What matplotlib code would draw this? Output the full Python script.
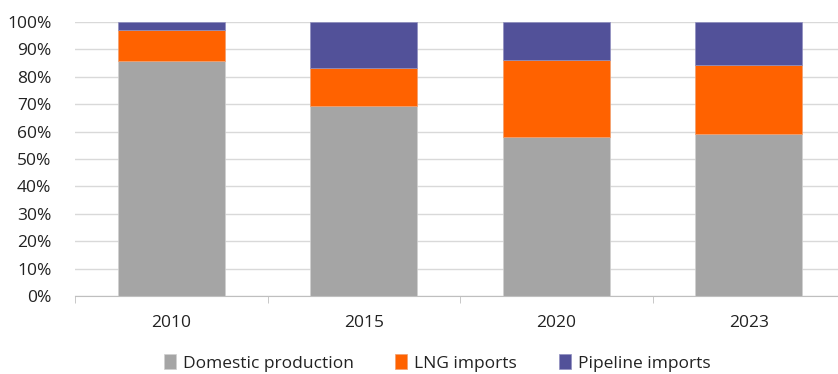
import numpy as np
import matplotlib.pyplot as plt
from matplotlib.ticker import PercentFormatter, FixedLocator

# data (share of supply, %)
years = ["2010", "2015", "2020", "2023"]
domestic = [85.6, 69.5, 58.0, 59.3]
lng = [11.5, 13.8, 28.2, 24.9]
pipeline = [2.9, 16.7, 13.8, 15.8]

GREY = "#A5A5A5"
ORANGE = "#FF6200"
PURPLE = "#525199"

plt.rcParams["font.family"] = ["Open Sans", "DejaVu Sans"]

fig = plt.figure(figsize=(8.38, 3.74), dpi=100)
ax = fig.add_axes([75 / 838, 78 / 374, 770 / 838, 274 / 374])

x = np.arange(len(years))
w = 0.556
dom = np.array(domestic)
ln = np.array(lng)
pipe = np.array(pipeline)

ax.bar(x, dom, w, color=GREY, edgecolor="#d0d0d0", linewidth=0.5, label="Domestic production", zorder=3)
ax.bar(x, ln, w, bottom=dom, color=ORANGE, edgecolor="#f0a070", linewidth=0.5, label="LNG imports", zorder=3)
ax.bar(x, pipe, w, bottom=dom + ln, color=PURPLE, edgecolor="#9090c0", linewidth=0.5, label="Pipeline imports", zorder=3)

ax.set_xlim(-0.5, len(years) - 0.5)
ax.set_ylim(0, 100)
ax.yaxis.set_major_locator(FixedLocator(np.arange(0, 101, 10)))
ax.yaxis.set_major_formatter(PercentFormatter(decimals=0))
ax.grid(axis="y", color="#d9d9d9", linewidth=1, zorder=0)
ax.set_axisbelow(True)

for s in ["top", "right", "left"]:
    ax.spines[s].set_visible(False)
ax.spines["bottom"].set_color("#bfbfbf")
ax.spines["bottom"].set_zorder(4)

ax.set_xticks(x)
ax.set_xticklabels(years)
ax.set_xticks(np.arange(-0.5, len(years)), minor=True)
ax.tick_params(axis="x", which="major", length=0, pad=14, labelsize=12.5, colors="#222222")
ax.tick_params(axis="x", which="minor", length=5, color="#bfbfbf")
ax.tick_params(axis="y", length=0, pad=17, labelsize=12.5, colors="#222222")

fig.legend(loc="center", bbox_to_anchor=(437 / 838, 11 / 374), ncol=3, frameon=False,
           fontsize=12.5, handlelength=0.7, handleheight=0.9, handletextpad=0.4,
           columnspacing=2.4, labelcolor="#222222")

fig.savefig("out.png", dpi=100)
